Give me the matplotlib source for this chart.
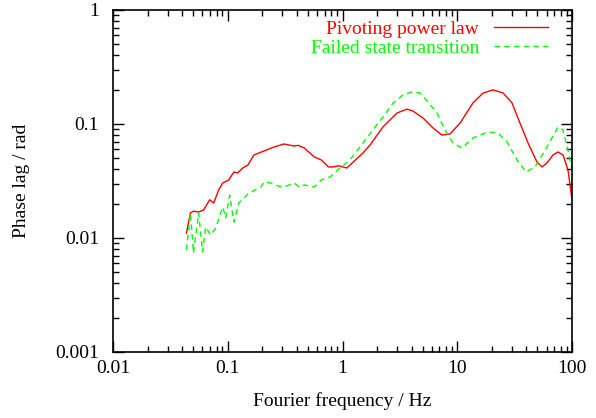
import matplotlib
matplotlib.use("Agg")
import matplotlib.pyplot as plt
from matplotlib.ticker import LogLocator, FixedLocator, FixedFormatter, NullFormatter

plt.rcParams['font.family'] = ['Liberation Serif', 'DejaVu Serif']

red_f = [0.0436, 0.0473, 0.0503, 0.0557, 0.0616, 0.0695, 0.0754, 0.0834, 0.0904, 0.102,
         0.113, 0.122, 0.135, 0.150, 0.169, 0.207, 0.253, 0.310, 0.379, 0.411,
         0.464, 0.568, 0.655, 0.754, 0.834, 0.922, 1.09, 1.24, 1.51, 1.74,
         2.25, 2.99, 3.65, 4.11, 5.03, 6.15, 7.36, 8.65, 10.6, 13.7,
         16.8, 20.5, 25.1, 30.0, 35.2, 41.4, 49.5, 54.8, 60.5, 68.3,
         75.5, 83.5, 92.3, 100.0]
red_v = [0.0110, 0.0166, 0.0172, 0.0169, 0.0176, 0.0216, 0.0203, 0.0264, 0.0304, 0.0323,
         0.0379, 0.0372, 0.0411, 0.0437, 0.0535, 0.0580, 0.0628, 0.0668, 0.0641, 0.0650,
         0.0616, 0.0514, 0.0483, 0.0420, 0.0420, 0.0430, 0.0411, 0.0464, 0.0557, 0.0655,
         0.0941, 0.125, 0.135, 0.130, 0.113, 0.0923, 0.080, 0.0817, 0.102, 0.153,
         0.187, 0.199, 0.187, 0.153, 0.102, 0.0681, 0.0464, 0.0420, 0.0455, 0.0535,
         0.0568, 0.0535, 0.0395, 0.0216]

green_f = [0.0436, 0.0473, 0.0503, 0.0557, 0.0604, 0.0642, 0.0709, 0.0785, 0.0904, 0.0960,
           0.104, 0.113, 0.125, 0.153, 0.195, 0.207, 0.238, 0.275, 0.310, 0.379,
           0.420, 0.464, 0.568, 0.655, 0.778, 0.951, 1.16, 1.51, 1.84, 2.25,
           2.76, 3.37, 4.03, 4.73, 5.56, 6.66, 7.82, 9.18, 11.0, 13.7,
           18.5, 22.6, 27.2, 33.2, 39.7, 47.6, 60.5, 75.5, 83.5, 92.3,
           100.0]
green_v = [0.00785, 0.01656, 0.00738, 0.01656, 0.00754, 0.01248, 0.01062, 0.01224, 0.0187, 0.0150,
           0.0238, 0.0138, 0.0203, 0.0248, 0.0280, 0.0310, 0.0304, 0.0286, 0.0280, 0.0304,
           0.0280, 0.0292, 0.0280, 0.0323, 0.0343, 0.0411, 0.0483, 0.0681, 0.0886, 0.115,
           0.153, 0.180, 0.191, 0.187, 0.156, 0.125, 0.0886, 0.0681, 0.0616, 0.0754,
           0.0851, 0.0834, 0.0695, 0.0483, 0.0379, 0.0420, 0.0628, 0.0941, 0.0886, 0.0591,
           0.0395]

x_ticks = [0.01, 0.1, 1, 10, 100]
x_labels = ['0.01', '0.1', '1', '10', '100']
y_ticks = [0.001, 0.01, 0.1, 1]
y_labels = ['0.001', '0.01', '0.1', '1']

W, H = 596, 418
L, R, T, B = 113, 572, 10, 352
fig = plt.figure(figsize=(W/100, H/100), dpi=100)
ax = fig.add_axes([L/W, 1 - B/H, (R-L)/W, (B-T)/H])

ax.plot(red_f, red_v, color='#ff0000', lw=1.0, label='Pivoting power law')
ax.plot(green_f, green_v, color='#00ff00', lw=1.0, linestyle=(0, (4, 3)),
        label='Failed state transition')

ax.set_xscale('log')
ax.set_yscale('log')
ax.set_xlim(0.01, 100)
ax.set_ylim(0.001, 1)
ax.xaxis.set_major_locator(FixedLocator(x_ticks))
ax.xaxis.set_major_formatter(FixedFormatter(x_labels))
ax.yaxis.set_major_locator(FixedLocator(y_ticks))
ax.yaxis.set_major_formatter(FixedFormatter(y_labels))
ax.xaxis.set_minor_locator(LogLocator(base=10, subs=range(2, 10)))
ax.yaxis.set_minor_locator(LogLocator(base=10, subs=range(2, 10)))
ax.xaxis.set_minor_formatter(NullFormatter())
ax.yaxis.set_minor_formatter(NullFormatter())
ax.tick_params(which='both', direction='in', top=True, right=True, labelsize=14, width=1)
ax.tick_params(which='major', length=8)
ax.tick_params(which='minor', length=4)
ax.tick_params(axis='x', which='major', pad=6)
ax.tick_params(axis='y', which='major', pad=10)
for s in ax.spines.values():
    s.set_linewidth(1.2)

ax.set_xlabel('Fourier frequency / Hz', fontsize=14)
ax.set_ylabel('Phase lag / rad', fontsize=14)
ax.xaxis.set_label_coords(0.5, -(392 - B) / (B - T))
ax.yaxis.set_label_coords((30 - L) / (R - L), 0.5)

leg = ax.legend(loc='upper right', frameon=False, markerfirst=False, fontsize=14,
                labelcolor='linecolor', handlelength=2.8, handletextpad=0.75,
                borderpad=0, borderaxespad=0, labelspacing=0.1,
                bbox_to_anchor=(1 - 24/(R-L), 1 - 10/(B-T)))

fig.savefig('out.png', dpi=100)
